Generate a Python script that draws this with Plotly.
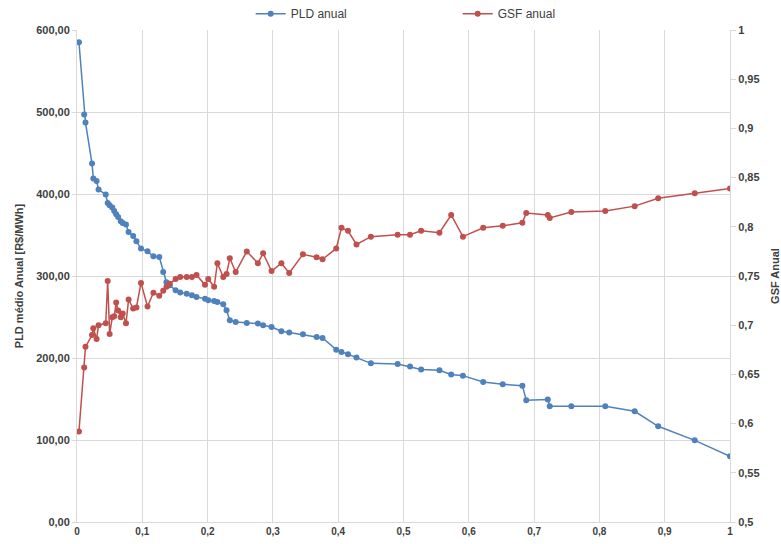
import plotly.graph_objects as go

# Probability of exceedance (shared by both series)
prob = [0.003, 0.011, 0.013, 0.023, 0.025, 0.030, 0.033, 0.044, 0.047, 0.050,
        0.054, 0.057, 0.060, 0.063, 0.067, 0.070, 0.075, 0.079, 0.086, 0.091,
        0.098, 0.108, 0.117, 0.126, 0.132, 0.137, 0.142, 0.151, 0.158, 0.168,
        0.176, 0.183, 0.196, 0.201, 0.210, 0.215, 0.224, 0.229, 0.234, 0.243,
        0.260, 0.277, 0.285, 0.298, 0.313, 0.325, 0.346, 0.367, 0.376, 0.397,
        0.405, 0.415, 0.428, 0.450, 0.491, 0.510, 0.527, 0.555, 0.573, 0.591,
        0.622, 0.652, 0.682, 0.688, 0.721, 0.724, 0.757, 0.809, 0.854, 0.890,
        0.946, 1.000]

# Annual average PLD [R$/MWh]
pld_anual = [585.0, 496.8, 487.1, 437.1, 418.8, 415.9, 405.4, 399.3, 389.0, 386.2,
             383.4, 379.3, 375.2, 372.0, 366.7, 364.6, 362.7, 353.7, 348.8, 342.3,
             333.4, 330.1, 324.0, 323.2, 304.9, 292.3, 288.7, 282.6, 279.8, 278.5,
             276.5, 274.4, 272.4, 270.4, 269.5, 268.3, 265.5, 258.2, 246.0, 243.9,
             242.7, 242.0, 239.9, 237.8, 232.6, 231.0, 228.9, 225.6, 224.4, 210.2,
             207.3, 204.5, 200.5, 193.5, 192.7, 189.5, 185.9, 185.0, 179.8, 178.5,
             170.7, 167.9, 166.3, 148.4, 149.3, 141.1, 141.1, 141.1, 135.0, 116.7,
             99.6, 80.1]

# Annual GSF
gsf_anual = [0.592, 0.657, 0.678, 0.690, 0.697, 0.686, 0.700, 0.702, 0.745, 0.691,
             0.708, 0.709, 0.723, 0.715, 0.708, 0.712, 0.702, 0.726, 0.717, 0.718,
             0.743, 0.719, 0.733, 0.730, 0.735, 0.739, 0.742, 0.747, 0.749, 0.749,
             0.749, 0.751, 0.741, 0.747, 0.739, 0.763, 0.749, 0.752, 0.768, 0.754,
             0.775, 0.763, 0.773, 0.755, 0.763, 0.753, 0.772, 0.769, 0.767, 0.778,
             0.799, 0.796, 0.782, 0.790, 0.792, 0.792, 0.796, 0.794, 0.812, 0.790,
             0.799, 0.801, 0.804, 0.814, 0.812, 0.809, 0.815, 0.816, 0.821, 0.829,
             0.834, 0.839]

BLUE = "#4F81BD"
RED = "#C0504D"
GRID = "#D9D9D9"
TXT = "#404040"
FONT = "Liberation Sans Narrow, Arial Narrow, Liberation Sans, sans-serif"

fig = go.Figure()
fig.add_trace(go.Scatter(
    x=prob, y=pld_anual, name="PLD anual", mode="lines+markers",
    line=dict(color=BLUE, width=1.5), marker=dict(color=BLUE, size=6),
    yaxis="y", legend="legend"))
fig.add_trace(go.Scatter(
    x=prob, y=gsf_anual, name="GSF anual", mode="lines+markers",
    line=dict(color=RED, width=1.5), marker=dict(color=RED, size=6),
    yaxis="y2", legend="legend2"))

legend_style = dict(orientation="h", yanchor="middle", y=1.033,
                    font=dict(size=12, color=TXT, family=FONT),
                    bgcolor="rgba(0,0,0,0)", itemwidth=30)

fig.update_layout(
    width=781, height=544,
    margin=dict(l=77, r=51, t=30, b=22, autoexpand=False),
    paper_bgcolor="white", plot_bgcolor="white",
    separators=",.",
    font=dict(family=FONT, color=TXT, size=11),
    showlegend=True,
    legend=dict(x=0.266, xanchor="left", **legend_style),
    legend2=dict(x=0.583, xanchor="left", **legend_style),
    xaxis=dict(range=[0, 1], dtick=0.1, tick0=0, showgrid=True, gridcolor=GRID,
               gridwidth=1, showline=True, linecolor=GRID, zeroline=False,
               ticks="", tickfont=dict(size=10, color=TXT, family=FONT, weight="bold"),
               ticklen=0),
    yaxis=dict(range=[0, 600], dtick=100, tickformat=".2f", showgrid=True,
               gridcolor=GRID, gridwidth=1, showline=True, linecolor=GRID,
               zeroline=False, ticks="outside", ticklen=4, tickcolor=GRID,
               tickfont=dict(size=11, color=TXT, family=FONT, weight="bold"),
               title=dict(text="PLD médio Anual [R$/MWh]", standoff=10,
                          font=dict(size=11, color=TXT, family=FONT, weight="bold"))),
    yaxis2=dict(range=[0.5, 1], dtick=0.05, overlaying="y", side="right",
                showgrid=False, showline=True, linecolor=GRID, zeroline=False,
                ticks="outside", ticklen=5, tickcolor=GRID,
                tickfont=dict(size=11, color=TXT, family=FONT, weight="bold"),
                title=dict(text="GSF Anual", standoff=14,
                           font=dict(size=11, color=TXT, family=FONT, weight="bold"))),
)

fig.write_html("out.html")
